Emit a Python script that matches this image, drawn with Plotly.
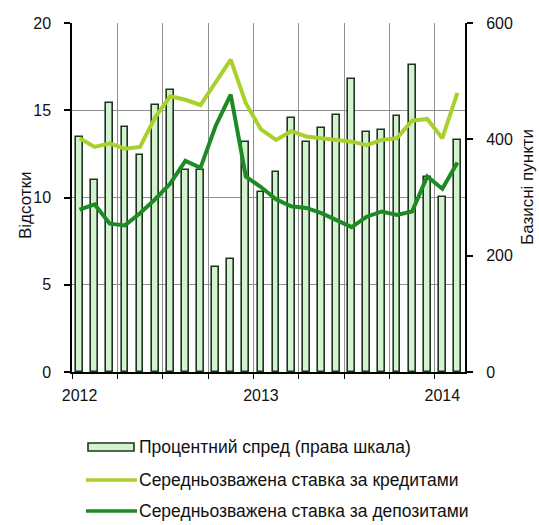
import plotly.graph_objects as go

# Monthly observations, January 2012 - February 2014
months = ["01.2012", "02.2012", "03.2012", "04.2012", "05.2012", "06.2012",
          "07.2012", "08.2012", "09.2012", "10.2012", "11.2012", "12.2012",
          "01.2013", "02.2013", "03.2013", "04.2013", "05.2013", "06.2013",
          "07.2013", "08.2013", "09.2013", "10.2013", "11.2013", "12.2013",
          "01.2014", "02.2014"]

# Interest rate spread, basis points (right scale)
spread_bp = [404, 330, 462, 422, 373, 459, 485, 347, 347, 180, 194, 396,
             310, 344, 436, 396, 419, 442, 503, 413, 416, 440, 528, 335,
             301, 399]

# Weighted average lending rate, %
loan_rate = [13.4, 12.9, 13.1, 12.8, 12.9, 14.6, 15.8, 15.6, 15.3, 16.6, 17.9, 15.4,
             13.9, 13.3, 13.8, 13.5, 13.4, 13.3, 13.2, 13.0, 13.3, 13.4, 14.4, 14.5,
             13.4, 16.0]

# Weighted average deposit rate, %
deposit_rate = [9.3, 9.6, 8.5, 8.4, 9.1, 9.9, 10.8, 12.1, 11.7, 14.1, 15.9, 11.2,
                10.6, 9.9, 9.5, 9.4, 9.1, 8.7, 8.3, 8.9, 9.2, 9.0, 9.2, 11.2,
                10.5, 12.0]

year_ticks = [0, 12, 24]
year_labels = ["2012", "2013", "2014"]

legend_names = ["Процентний спред (права шкала)",
                "Середньозважена ставка за кредитами",
                "Середньозважена ставка за депозитами"]

BAR_FILL = "#d3f2cf"
BAR_EDGE = "#1f3320"
LOAN_COLOR = "#a9d12c"
DEPO_COLOR = "#1e8a24"
GRID = "#8f8f8f"
FONT = "Arial"

W, H = 539, 525
L, R, T, B = 72, 465, 23, 372   # plot area edges in pixels

x = list(range(len(months)))

fig = go.Figure()
fig.add_trace(go.Bar(
    x=x, y=spread_bp, yaxis="y", width=0.45,
    marker=dict(color=BAR_FILL, line=dict(color=BAR_EDGE, width=1.6)),
    name=legend_names[0], showlegend=False,
))
fig.add_trace(go.Scatter(
    x=x, y=loan_rate, yaxis="y2", mode="lines",
    line=dict(color=LOAN_COLOR, width=4), name=legend_names[1], showlegend=False,
))
fig.add_trace(go.Scatter(
    x=x, y=deposit_rate, yaxis="y2", mode="lines",
    line=dict(color=DEPO_COLOR, width=4), name=legend_names[2], showlegend=False,
))


def px_x(px):
    return (px - L) / (R - L)


def px_y(py):
    return (B - py) / (B - T)


# Hand-drawn legend below the plot
shapes = []
annotations = []
rows = [447, 480, 511]
shapes.append(dict(type="rect", xref="paper", yref="paper",
                   x0=px_x(88), x1=px_x(134), y0=px_y(rows[0] + 4), y1=px_y(rows[0] - 4),
                   fillcolor=BAR_FILL, line=dict(color=BAR_EDGE, width=1.6)))
for row, color in zip(rows[1:], [LOAN_COLOR, DEPO_COLOR]):
    shapes.append(dict(type="line", xref="paper", yref="paper",
                       x0=px_x(86), x1=px_x(137), y0=px_y(row), y1=px_y(row),
                       line=dict(color=color, width=3.5)))
for row, name in zip(rows, legend_names):
    annotations.append(dict(xref="paper", yref="paper", x=px_x(137), y=px_y(row),
                            text=name, showarrow=False, xanchor="left", yanchor="middle",
                            font=dict(family=FONT, size=17.5, color="#111")))

# Axis titles
annotations.append(dict(xref="paper", yref="paper", x=px_x(25), y=px_y(205),
                        text="Відсотки", textangle=-90, showarrow=False,
                        xanchor="center", yanchor="middle",
                        font=dict(family=FONT, size=17, color="#111")))
annotations.append(dict(xref="paper", yref="paper", x=px_x(528), y=px_y(187),
                        text="Базисні пункти", textangle=-90, showarrow=False,
                        xanchor="center", yanchor="middle",
                        font=dict(family=FONT, size=17, color="#111")))

tick_font = dict(family=FONT, size=16, color="#111")

fig.update_layout(
    width=W, height=H,
    margin=dict(l=L, r=W - R, t=T, b=H - B),
    paper_bgcolor="white", plot_bgcolor="white",
    showlegend=False,
    bargap=0,
    shapes=shapes,
    annotations=annotations,
    xaxis=dict(
        range=[-0.5, len(months) - 0.5],
        tickmode="array", tickvals=year_ticks, ticktext=year_labels,
        ticks="", showgrid=False, zeroline=False,
        showline=True, linecolor="black", linewidth=1.5,
        tickfont=tick_font, ticklabelstandoff=8,
        minor=dict(tickmode="linear", tick0=-0.5, dtick=3, showgrid=True,
                   gridcolor=GRID, gridwidth=1, ticks="outside", ticklen=5,
                   tickcolor="black", tickwidth=1),
    ),
    yaxis=dict(
        side="right", range=[0, 600], tickmode="linear", tick0=0, dtick=200,
        showgrid=False, zeroline=False,
        showline=True, linecolor="black", linewidth=2,
        ticks="outside", ticklen=6, tickcolor="black", tickwidth=1.5,
        tickfont=tick_font, ticklabelstandoff=10,
    ),
    yaxis2=dict(
        overlaying="y", side="left", range=[0, 20], tickmode="linear", tick0=0, dtick=5,
        showgrid=True, gridcolor=GRID, gridwidth=1, zeroline=False,
        showline=True, linecolor="black", linewidth=1.5,
        ticks="outside", ticklen=6, tickcolor="black", tickwidth=1.5,
        tickfont=tick_font, ticklabelstandoff=10,
    ),
)

fig.write_html("out.html")
